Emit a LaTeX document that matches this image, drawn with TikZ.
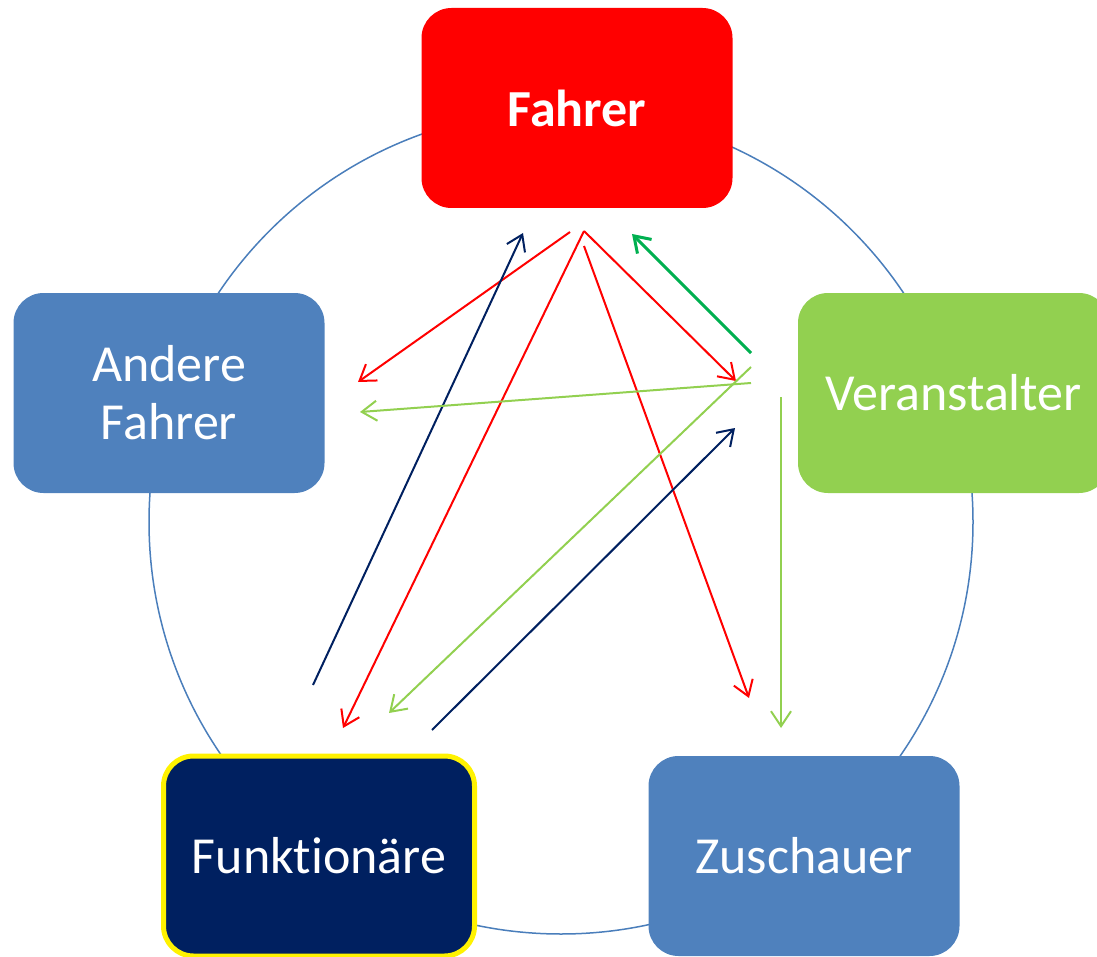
\documentclass[tikz,border=0pt]{standalone}
\usepackage{fontspec}
\setmainfont{Carlito}[Ligatures=NoCommon]
\usetikzlibrary{arrows.meta,positioning}
\definecolor{fahrerred}{RGB}{255,0,0}
\definecolor{roleblue}{RGB}{79,129,189}
\definecolor{orggreen}{RGB}{146,208,80}
\definecolor{signalgreen}{RGB}{0,176,80}
\definecolor{officialnavy}{RGB}{0,32,96}
\definecolor{ringblue}{RGB}{74,126,187}

\begin{document}
\begin{tikzpicture}[x=0.5pt, y=-0.5pt, >={Straight Barb[length=7.5pt,width=10pt]},
 every node/.style={font=\fontsize{26}{29}\selectfont, text=white, align=center},
 role/.style={rounded corners=15pt, minimum width=155.5pt, minimum height=100pt, inner sep=0pt},
 link/.style={->, line width=1pt}]
\clip (0,0) rectangle (1097,957);
% ring behind the roles
\draw[ringblue, line width=0.75pt] (561,522) circle[radius=412];
\node[role, fill=fahrerred, font=\fontsize{26}{29}\selectfont\bfseries] (fahrer) at (577,108) {Fahrer};
\node[role, fill=roleblue] (andere) at (169,393) {Andere\\Fahrer};
\node[role, fill=orggreen] (veranst) at (953.5,393) {Veranstalter};
\node[role, fill=officialnavy, draw=yellow, line width=2.5pt] (funkt) at (319,856) {Funktionäre};
\node[role, fill=roleblue] (zusch) at (804,856) {Zuschauer};
% free ends of the links
\coordinate (fa-a) at (570,232);
\coordinate (fa-b) at (584,231);
\coordinate (fa-c) at (584,246);
\coordinate (fa-in1) at (523,233);
\coordinate (fa-in2) at (632,234);
\coordinate (an-in1) at (358,382);
\coordinate (an-in2) at (360,412);
\coordinate (fu-in1) at (343,728);
\coordinate (fu-in2) at (389,713);
\coordinate (fu-out1) at (313,685);
\coordinate (fu-out2) at (432,730);
\coordinate (ve-in1) at (736,381);
\coordinate (ve-in2) at (735,428);
\coordinate (ve-out0) at (751,353);
\coordinate (ve-out1) at (751,383);
\coordinate (ve-out2) at (751,367);
\coordinate (ve-out3) at (781,397);
\coordinate (zu-in1) at (749,698);
\coordinate (zu-in2) at (781,728);
% Fahrer
\draw[link, fahrerred] (fa-a)--(an-in1);
\draw[link, fahrerred] (fa-b)--(fu-in1);
\draw[link, fahrerred] (fa-b)--(ve-in1);
\draw[link, fahrerred] (fa-c)--(zu-in1);
% Funktionaere
\draw[link, officialnavy] (fu-out1)--(fa-in1);
\draw[link, officialnavy] (fu-out2)--(ve-in2);
% Veranstalter
\draw[link, signalgreen, line width=1.5pt] (ve-out0)--(fa-in2);
\draw[link, orggreen] (ve-out1)--(an-in2);
\draw[link, orggreen] (ve-out2)--(fu-in2);
\draw[link, orggreen] (ve-out3)--(zu-in2);
\end{tikzpicture}
\end{document}
